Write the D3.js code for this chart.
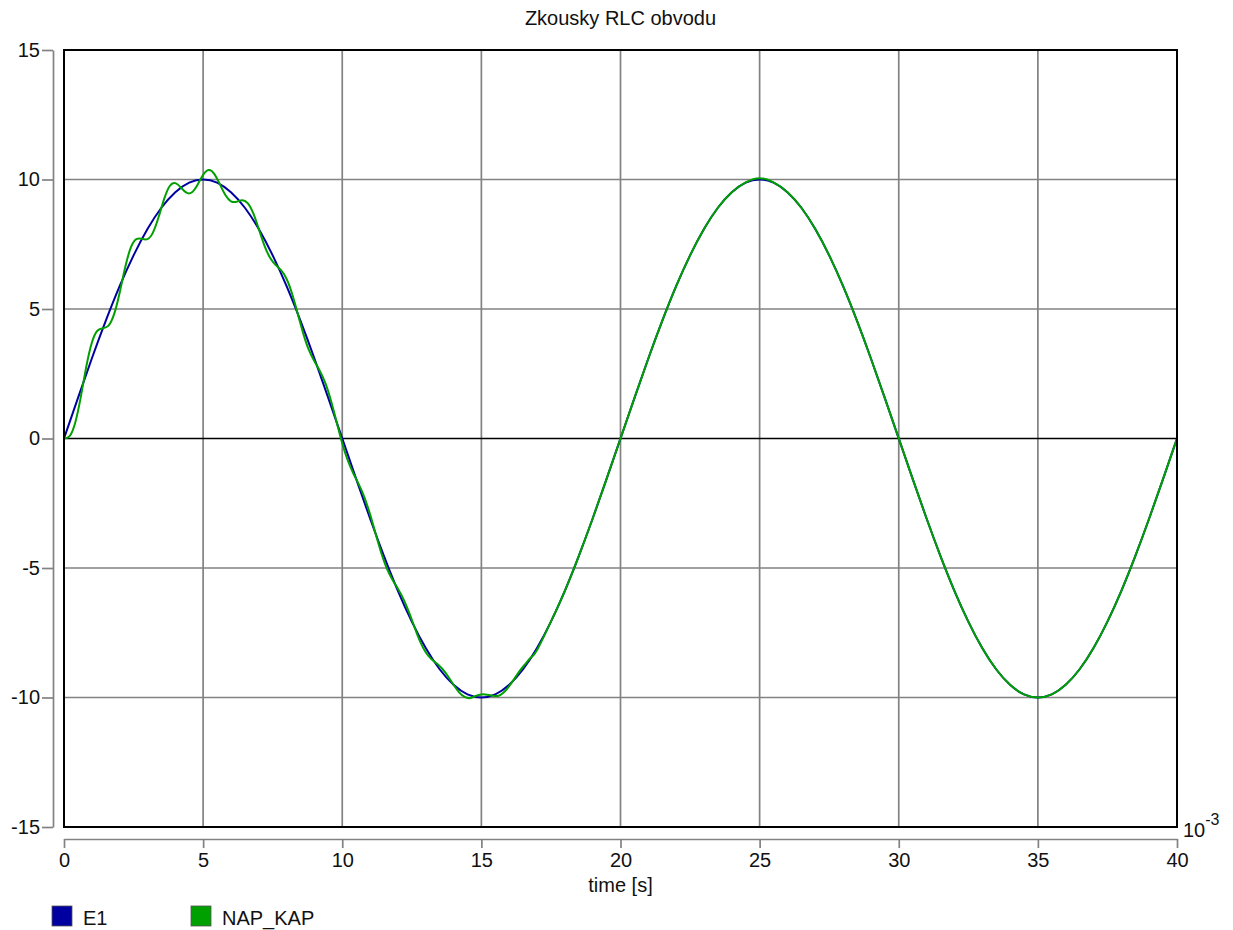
<!DOCTYPE html>
<meta charset="utf-8">
<script src="https://d3js.org/d3.v7.min.js"></script>
<title>Zkousky RLC obvodu</title>
<style>
  body { margin: 0; background: #fff; }
  text { font-family: Arial, "Liberation Sans", sans-serif; fill: #111; }
</style>
<div id="chart"></div>
<script>
// tick labels (time axis in ms, shown with 10^-3 multiplier)
const xTicks = [0, 5, 10, 15, 20, 25, 30, 35, 40];
const yTicks = [-15, -10, -5, 0, 5, 10, 15];

// E1 - source voltage, read every 0.5 ms
const e1Time = [0,0.5,1,1.5,2,2.5,3,3.5,4,4.5,5,5.5,6,6.5,7,7.5,8,8.5,9,9.5,
  10,10.5,11,11.5,12,12.5,13,13.5,14,14.5,15,15.5,16,16.5,17,17.5,18,18.5,19,19.5,
  20,20.5,21,21.5,22,22.5,23,23.5,24,24.5,25,25.5,26,26.5,27,27.5,28,28.5,29,29.5,
  30,30.5,31,31.5,32,32.5,33,33.5,34,34.5,35,35.5,36,36.5,37,37.5,38,38.5,39,39.5,40];
const e1Values = [0,1.56,3.09,4.54,5.88,7.07,8.09,8.91,9.51,9.88,10,9.88,9.51,8.91,8.09,7.07,5.88,4.54,3.09,1.56,
  0,-1.56,-3.09,-4.54,-5.88,-7.07,-8.09,-8.91,-9.51,-9.88,-10,-9.88,-9.51,-8.91,-8.09,-7.07,-5.88,-4.54,-3.09,-1.56,
  0,1.56,3.09,4.54,5.88,7.07,8.09,8.91,9.51,9.88,10,9.88,9.51,8.91,8.09,7.07,5.88,4.54,3.09,1.56,
  0,-1.56,-3.09,-4.54,-5.88,-7.07,-8.09,-8.91,-9.51,-9.88,-10,-9.88,-9.51,-8.91,-8.09,-7.07,-5.88,-4.54,-3.09,-1.56,0];

// NAP_KAP - capacitor voltage, read every 0.2 ms during the ringing, then every 0.5 ms
const napTime = [0,0.2,0.4,0.6,0.8,1,1.2,1.4,1.6,1.8,2,2.2,2.4,2.6,2.8,3,3.2,3.4,3.6,3.8,
  4,4.2,4.4,4.6,4.8,5,5.2,5.4,5.6,5.8,6,6.2,6.4,6.6,6.8,7,7.2,7.4,7.6,7.8,
  8,8.2,8.4,8.6,8.8,9,9.2,9.4,9.6,9.8,10,10.2,10.4,10.6,10.8,11,11.2,11.4,11.6,11.8,
  12,12.2,12.4,12.6,12.8,13,13.2,13.4,13.6,13.8,14,14.2,14.4,14.6,14.8,15,15.2,15.4,15.6,15.8,
  16,16.2,16.4,16.6,16.8,17,17.5,18,18.5,19,19.5,20,20.5,21,21.5,22,22.5,23,23.5,24,24.5,
  25,25.5,26,26.5,27,27.5,28,28.5,29,29.5,30,30.5,31,31.5,32,32.5,33,33.5,34,34.5,
  35,35.5,36,36.5,37,37.5,38,38.5,39,39.5,40];
const napValues = [0,0.09,0.60,1.59,2.77,3.70,4.16,4.26,4.36,4.80,5.63,6.61,7.37,7.70,7.71,7.70,7.96,8.55,9.25,9.75,
  9.86,9.69,9.49,9.51,9.80,10.18,10.37,10.22,9.82,9.40,9.16,9.14,9.20,9.09,8.70,8.09,7.46,6.99,6.71,6.50,
  6.16,5.58,4.82,4.05,3.42,2.98,2.60,2.12,1.44,0.63,-0.18,-0.85,-1.35,-1.78,-2.28,-2.93,-3.68,-4.41,-5.01,-5.44,
  -5.80,-6.20,-6.71,-7.29,-7.84,-8.25,-8.51,-8.69,-8.90,-9.18,-9.51,-9.80,-9.98,-10.02,-9.94,-9.88,-9.89,-9.93,-9.94,-9.81,
  -9.56,-9.25,-8.94,-8.68,-8.44,-8.17,-7.07,-5.88,-4.54,-3.09,-1.56,0,1.56,3.09,4.54,5.88,7.07,8.09,8.91,9.51,9.89,
  10.05,9.89,9.51,8.91,8.09,7.07,5.88,4.54,3.09,1.56,0,-1.56,-3.09,-4.54,-5.88,-7.07,-8.09,-8.91,-9.51,-9.88,
  -10,-9.88,-9.51,-8.91,-8.09,-7.07,-5.88,-4.54,-3.09,-1.56,0];

const seriesNames = ["E1", "NAP_KAP"];
const seriesColors = ["#0000a0", "#00a000"];

const W = 1233, H = 930;
const plot = {left: 64, right: 1177, top: 50, bottom: 827};
const gridColor = "#828282";

const svg = d3.select("#chart").append("svg")
  .attr("width", W).attr("height", H);

const x = d3.scaleLinear().domain([0, 40]).range([plot.left, plot.right]);
const y = d3.scaleLinear().domain([-15, 15]).range([plot.bottom, plot.top]);

// title
svg.append("text")
  .attr("x", (plot.left + plot.right) / 2).attr("y", 25)
  .attr("text-anchor", "middle").style("font-size", "20px")
  .text("Zkousky RLC obvodu");

// grid
svg.append("g").selectAll("line")
  .data(xTicks.slice(1, -1)).join("line")
  .attr("x1", d => x(d)).attr("x2", d => x(d))
  .attr("y1", plot.top).attr("y2", plot.bottom)
  .attr("stroke", gridColor).attr("stroke-width", 1.7);

svg.append("g").selectAll("line")
  .data(yTicks.filter(d => d !== 0 && Math.abs(d) !== 15)).join("line")
  .attr("x1", plot.left).attr("x2", plot.right)
  .attr("y1", d => y(d)).attr("y2", d => y(d))
  .attr("stroke", gridColor).attr("stroke-width", 1.7);

// zero line
svg.append("line")
  .attr("x1", plot.left).attr("x2", plot.right)
  .attr("y1", y(0)).attr("y2", y(0))
  .attr("stroke", "#000").attr("stroke-width", 1.7);

// axes, drawn apart from the frame
const yAxis = svg.append("g")
  .attr("transform", "translate(53,0)")
  .call(d3.axisLeft(y).tickValues(yTicks).tickFormat(d => String(d))
    .tickSize(11).tickPadding(2).tickSizeOuter(0));

const xAxis = svg.append("g")
  .attr("transform", "translate(0,839)")
  .call(d3.axisBottom(x).tickValues(xTicks).tickFormat(d => String(d))
    .tickSize(9).tickPadding(5).tickSizeOuter(0));

[yAxis, xAxis].forEach(a => {
  a.select(".domain").attr("stroke", gridColor).attr("stroke-width", 1.7);
  a.selectAll(".tick line").attr("stroke", gridColor).attr("stroke-width", 1.7);
  a.selectAll(".tick text").style("font-size", "20px").attr("fill", "#111")
    .style("font-family", "Arial, 'Liberation Sans', sans-serif");
});

// lines
const line = d3.line().curve(d3.curveNatural)
  .x(d => x(d[0])).y(d => y(d[1]));

const e1Data = e1Time.map((t, i) => [t, e1Values[i]]);
const napData = napTime.map((t, i) => [t, napValues[i]]);

svg.append("path").datum(e1Data)
  .attr("d", line).attr("fill", "none")
  .attr("stroke", seriesColors[0]).attr("stroke-width", 2);

svg.append("path").datum(napData)
  .attr("d", line).attr("fill", "none")
  .attr("stroke", seriesColors[1]).attr("stroke-width", 2);

// frame
svg.append("rect")
  .attr("x", plot.left).attr("y", plot.top)
  .attr("width", plot.right - plot.left).attr("height", plot.bottom - plot.top)
  .attr("fill", "none").attr("stroke", "#000").attr("stroke-width", 2);

// axis label and multiplier
svg.append("text")
  .attr("x", (plot.left + plot.right) / 2).attr("y", 892)
  .attr("text-anchor", "middle").style("font-size", "20px")
  .text("time [s]");

const mult = svg.append("text").attr("x", 1183).attr("y", 837).style("font-size", "20px");
mult.append("tspan").text("10");
mult.append("tspan").attr("dy", -12).style("font-size", "16px").text("-3");

// legend
const legend = svg.append("g").selectAll("g")
  .data(seriesNames).join("g")
  .attr("transform", (d, i) => `translate(${52 + i * 139},906)`);

legend.append("rect")
  .attr("width", 20).attr("height", 20)
  .attr("fill", (d, i) => seriesColors[i])
  .attr("stroke", "#555").attr("stroke-width", 0.8);

legend.append("text")
  .attr("x", 31).attr("y", 19)
  .style("font-size", "20px")
  .text(d => d);
</script>
